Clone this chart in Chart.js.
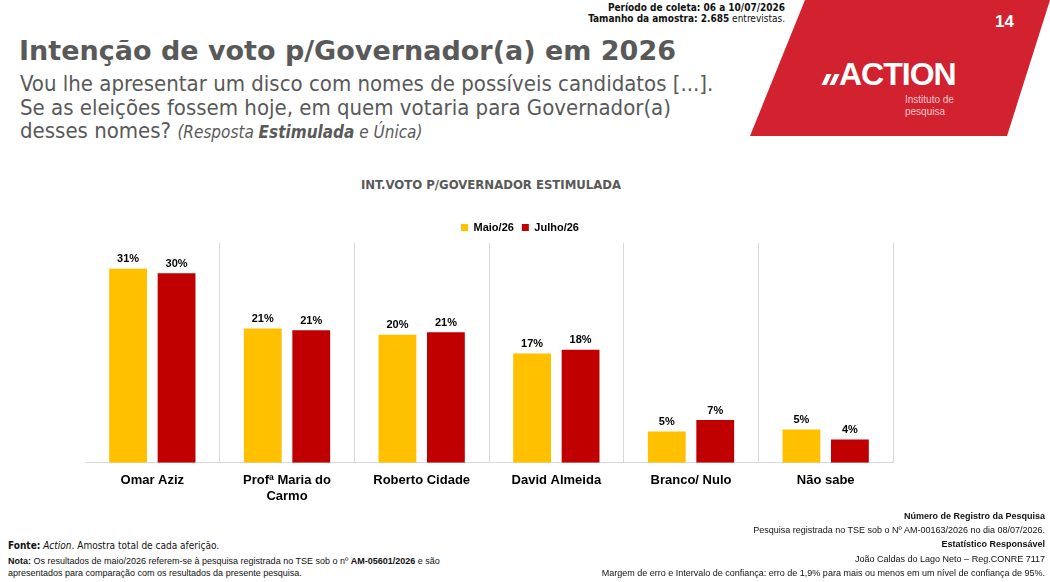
<!DOCTYPE html>
<html>
<head>
<meta charset="utf-8">
<script src="https://cdn.jsdelivr.net/npm/chart.js@4/dist/chart.umd.min.js"></script>
<style>
  body { margin: 0; width: 1050px; height: 582px; background: #fff; position: relative; overflow: hidden; font-family: 'Liberation Sans', Arial, sans-serif; }
  .abs { position: absolute; white-space: nowrap; }
  #redShape { position: absolute; left: 0; top: 0; width: 1050px; height: 136px; background: #d2212f; clip-path: polygon(805px 0, 1050px 0, 1007px 136px, 750px 136px); }
  #periodo { right: 265px; top: 2px; font-family: 'DejaVu Sans Condensed', 'DejaVu Sans', sans-serif; font-size: 10px; line-height: 11px; text-align: right; color: #111; }
  #title { left: 19px; top: 35px; font-family: 'DejaVu Sans', Verdana, sans-serif; font-weight: bold; font-size: 27px; color: #595959; }
  #sub { left: 20px; top: 72px; font-family: 'DejaVu Sans Condensed', 'DejaVu Sans', sans-serif; font-size: 22px; line-height: 23.5px; color: #595959; }
  #sub .small { font-size: 17px; font-style: italic; }
  #chartTitle { left: 0; width: 982px; top: 177px; text-align: center; font-family: 'Liberation Sans Narrow', 'DejaVu Sans Condensed', sans-serif; font-weight: bold; font-size: 13px; color: #595959; }
  #chartBox { position: absolute; left: 85px; top: 214px; width: 870px; height: 300px; }
  #foot1 { left: 8px; top: 540px; font-family: 'DejaVu Sans Condensed', sans-serif; font-size: 10px; color: #111; }
  #foot2 { left: 8px; top: 555px; font-size: 9px; line-height: 12px; color: #111; }
  #foot3 { right: 5px; top: 509px; font-size: 9px; line-height: 14.2px; text-align: right; color: #111; }
  .slash { display: inline-block; width: 5px; height: 11px; background: #fff; transform: skewX(-25deg); margin-right: 3px; }
</style>
</head>
<body>
<div id="redShape"></div>
<div class="abs" style="left:995px; top:12px; color:#fff; font-weight:bold; font-size:17px;">14</div>
<div class="abs" style="left:824px; top:56px; color:#fff; font-weight:bold; font-size:32px; letter-spacing:-1px;">
  <span class="slash"></span><span class="slash" style="margin-right:2px;"></span>ACTION
</div>
<div class="abs" style="left:905px; top:94px; color:#f6c9cc; font-size:10px; line-height:12px;">Instituto de<br>pesquisa</div>

<div id="periodo" class="abs"><b>Período de coleta: 06 a 10/07/2026</b><br><b>Tamanho da amostra: 2.685</b> entrevistas.</div>
<div id="title" class="abs">Intenção de voto p/Governador(a) em 2026</div>
<div id="sub" class="abs">Vou lhe apresentar um disco com nomes de possíveis candidatos [...].<br>Se as eleições fossem hoje, em quem votaria para Governador(a)<br>desses nomes? <span class="small">(Resposta <b>Estimulada</b> e Única)</span></div>

<div id="chartTitle" class="abs">INT.VOTO P/GOVERNADOR ESTIMULADA</div>
<div id="chartBox"><canvas id="chart"></canvas></div>

<div id="foot1" class="abs"><b>Fonte:</b> <i>Action</i>. Amostra total de cada aferição.</div>
<div id="foot2" class="abs"><b>Nota:</b> Os resultados de maio/2026 referem-se à pesquisa registrada no TSE sob o nº <b>AM-05601/2026</b> e são<br>apresentados para comparação com os resultados da presente pesquisa.</div>
<div id="foot3" class="abs"><b>Número de Registro da Pesquisa</b><br>Pesquisa registrada no TSE sob o Nº AM-00163/2026 no dia 08/07/2026.<br><b>Estatístico Responsável</b><br>João Caldas do Lago Neto – Reg.CONRE 7117<br>Margem de erro e Intervalo de confiança: erro de 1,9% para mais ou menos em um nível de confiança de 95%.</div>

<script>
const categories = ['Omar Aziz', ['Profª Maria do', 'Carmo'], 'Roberto Cidade', 'David Almeida', 'Branco/ Nulo', 'Não sabe'];
const seriesNames = ['Maio/26', 'Julho/26'];
const maio = [30.9, 21.4, 20.4, 17.4, 5.0, 5.3];
const julho = [30.2, 21.1, 20.8, 18.0, 6.8, 3.7];
const seriesColors = ['#ffc000', '#c00000'];

const narrow = "'Liberation Sans Narrow', 'Liberation Sans', Arial, sans-serif";

// draws the % on top of each bar
const valueLabels = {
  id: 'valueLabels',
  afterDatasetsDraw(chart) {
    const ctx = chart.ctx;
    ctx.save();
    ctx.font = 'bold 11px ' + narrow;
    ctx.fillStyle = '#000';
    ctx.textAlign = 'center';
    ctx.textBaseline = 'bottom';
    chart.data.datasets.forEach((ds, i) => {
      chart.getDatasetMeta(i).data.forEach((bar, j) => {
        ctx.fillText(Math.round(ds.data[j]) + '%', bar.x, bar.y - 4);
      });
    });
    ctx.restore();
  }
};

new Chart(document.getElementById('chart'), {
  type: 'bar',
  data: {
    labels: categories,
    datasets: [
      { label: seriesNames[0], data: maio, backgroundColor: seriesColors[0] },
      { label: seriesNames[1], data: julho, backgroundColor: seriesColors[1] }
    ]
  },
  options: {
    responsive: true,
    maintainAspectRatio: false,
    animation: false,
    datasets: { bar: { barPercentage: 0.78, categoryPercentage: 0.72 } },
    plugins: {
      legend: {
        position: 'top',
        labels: {
          boxWidth: 7, boxHeight: 7, padding: 8,
          color: '#000',
          font: { family: narrow, size: 11, weight: 'bold' }
        }
      },
      tooltip: { enabled: false }
    },
    scales: {
      x: {
        grid: { display: true, color: '#d9d9d9', drawTicks: false, offset: true },
        border: { color: '#d9d9d9' },
        ticks: { color: '#000', padding: 10, font: { family: narrow, size: 13, weight: 'bold' }, maxRotation: 0 }
      },
      y: {
        position: 'right',
        min: 0, max: 35,
        grid: { display: false },
        border: { display: false },
        ticks: { display: false },
        afterFit(scale) { scale.width = 62; }
      }
    }
  },
  plugins: [valueLabels]
});
</script>
</body>
</html>
